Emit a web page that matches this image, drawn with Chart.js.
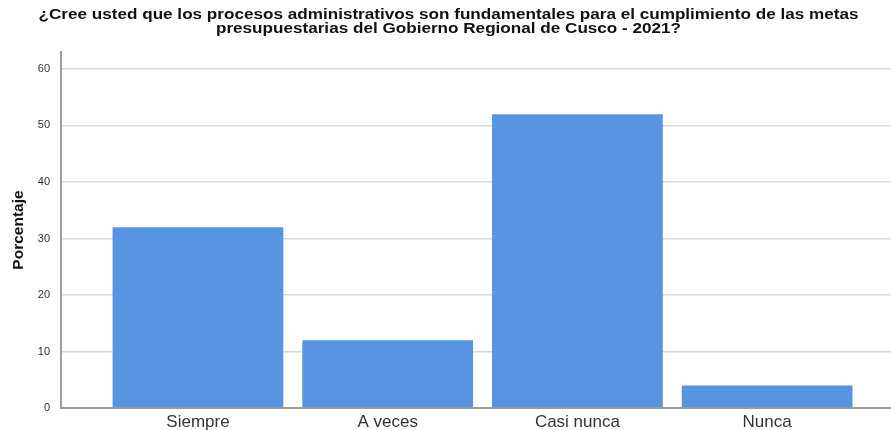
<!DOCTYPE html>
<html lang="es">
<head>
<meta charset="utf-8">
<title>Porcentaje</title>
<script src="https://cdn.jsdelivr.net/npm/chart.js@4.4.1/dist/chart.umd.min.js"></script>
<style>
  html, body { margin: 0; padding: 0; background: #fff; }
  #wrap { width: 891px; height: 430px; position: relative; }
</style>
</head>
<body>
<div id="wrap"><canvas id="chart"></canvas></div>
<script>
// --- data ---
const titleLines = [
    '¿Cree usted que los procesos administrativos son fundamentales para el cumplimiento de las metas',
    'presupuestarias del Gobierno Regional de Cusco - 2021?'
];
const categories = ['Siempre', 'A veces', 'Casi nunca', 'Nunca'];
const percentages = [32, 12, 52, 4];
const yTicks = [0, 10, 20, 30, 40, 50, 60];

const FONT = "'Liberation Sans', Arial, sans-serif";

// bars sit on a linear x scale so the left gap can be wider than the others
const points = categories.map((c, i) => ({ x: i, y: percentages[i] }));

// SPSS-style title: the export is stretched sideways, so draw it a bit wide
const wideTitle = {
    id: 'wideTitle',
    afterDraw(chart) {
        const c = chart.ctx;
        const cx = chart.width / 2 + 3;
        c.save();
        c.font = 'bold 15.5px ' + FONT;
        c.fillStyle = '#111';
        c.textAlign = 'center';
        c.textBaseline = 'middle';
        const sx = 820 / c.measureText(titleLines[0]).width;
        titleLines.forEach((line, i) => {
            c.save();
            c.translate(cx, 15 + i * 13.5);
            c.scale(sx, 1);
            c.fillText(line, 0, 0);
            c.restore();
        });
        c.restore();
    }
};

const ctx = document.getElementById('chart').getContext('2d');

new Chart(ctx, {
    type: 'bar',
    data: {
        datasets: [{
            label: 'Porcentaje',
            data: points,
            backgroundColor: '#5794e2',
            borderWidth: 0,
            barPercentage: 1.0,
            categoryPercentage: 0.9
        }]
    },
    options: {
        responsive: true,
        maintainAspectRatio: false,
        animation: false,
        layout: { padding: { top: 52, left: 0, right: 0, bottom: 0 } },
        plugins: {
            legend: { display: false },
            tooltip: { enabled: false },
            title: { display: false }
        },
        scales: {
            x: {
                type: 'linear',
                offset: false,
                min: -0.722,
                max: 3.653,
                afterFit: (scale) => { scale.height = 22; },
                grid: { display: false, drawTicks: false, offset: false },
                border: { display: true, color: '#9c9c9c', width: 2 },
                ticks: {
                    stepSize: 1,
                    includeBounds: false,
                    autoSkip: false,
                    maxRotation: 0,
                    padding: 4.5,
                    color: '#333',
                    font: { family: FONT, size: 17 },
                    callback: (v) => categories[v] ?? ''
                }
            },
            y: {
                min: 0,
                max: 63,
                afterFit: (scale) => { scale.width = 61; },
                afterBuildTicks: (scale) => { scale.ticks = yTicks.map(v => ({ value: v })); },
                grid: { color: '#d8d8d8', lineWidth: 1.5, drawTicks: false },
                border: { display: true, color: '#9c9c9c', width: 2 },
                ticks: {
                    padding: 11,
                    color: '#333',
                    font: { family: FONT, size: 11 }
                },
                title: {
                    display: true,
                    text: 'Porcentaje',
                    color: '#111',
                    font: { family: FONT, size: 15.5, weight: 'bold' },
                    padding: { top: 9, bottom: 0 }
                }
            }
        }
    },
    plugins: [wideTitle]
});
</script>
</body>
</html>
